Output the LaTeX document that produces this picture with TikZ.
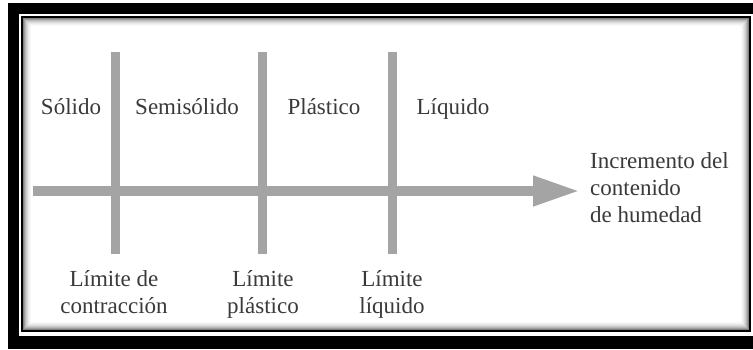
\documentclass[tikz,border=0pt]{standalone}
\usepackage{fontspec}
\setmainfont{Liberation Serif}
\usetikzlibrary{arrows.meta}
\definecolor{linegray}{HTML}{A4A4A4}
\definecolor{txt}{HTML}{3A3A3A}
\begin{document}
\begin{tikzpicture}[x=1pt,y=-1pt,
  lbl/.style={anchor=base,inner sep=0pt,text=txt,font=\fontsize{23}{27}\selectfont},
  rlbl/.style={lbl,anchor=base west},
  limline/.style={draw=linegray,line width=9pt},
  axis/.style={draw=linegray,line width=10pt,-{Triangle[length=47pt,width=28pt]}}]
\useasboundingbox (0,0) rectangle (753,349);
% frames
\fill[black] (8,3) rectangle (753,349);
\fill[white] (19,14) rectangle (753,336);
\draw[black,line width=2.5pt,fill=white] (22,17) rectangle (750,331);
\foreach \i/\c in {1.5/50,2.5/38,3.5/28,4.5/20,5.5/14,6.5/9,7.5/5,8.5/2}
  \draw[black!\c,line width=1pt] (22+\i,17+\i) rectangle (750-\i,331-\i);
% coordinates
\coordinate (a0) at (33,191);
\coordinate (a1) at (580,191);
\coordinate (v1t) at (115,52);  \coordinate (v1b) at (115,254);
\coordinate (v2t) at (262,52);  \coordinate (v2b) at (262,254);
\coordinate (v3t) at (392,52);  \coordinate (v3b) at (392,254);
% lines
\draw[limline] (v1t) -- (v1b);
\draw[limline] (v2t) -- (v2b);
\draw[limline] (v3t) -- (v3b);
\draw[axis] (a0) -- (a1);
% top labels
\node[lbl] (sol) at (71,114) {Sólido};
\node[lbl] (semi) at (187,114) {Semisólido};
\node[lbl] (plas) at (324,114) {Plástico};
\node[lbl] (liq) at (453,114) {Líquido};
% bottom labels
\node[lbl] (l1a) at (114,286) {Límite de};
\node[lbl] (l1b) at (114,313) {contracción};
\node[lbl] (l2a) at (263,286) {Límite};
\node[lbl] (l2b) at (263,313) {plástico};
\node[lbl] (l3a) at (392,286) {Límite};
\node[lbl] (l3b) at (392,313) {líquido};
% right label
\node[rlbl] (r1) at (590,168) {Incremento del};
\node[rlbl] (r2) at (590,195) {contenido};
\node[rlbl] (r3) at (590,222) {de humedad};
\end{tikzpicture}
\end{document}
